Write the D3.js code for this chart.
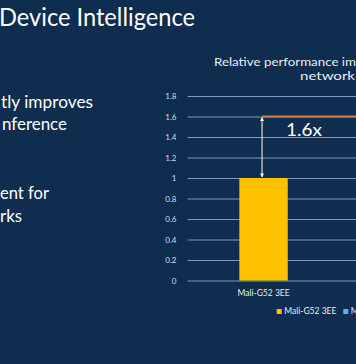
<!DOCTYPE html>
<html><head><meta charset="utf-8">
<script src="https://cdn.jsdelivr.net/npm/d3@7"></script>
<style>html,body{margin:0;padding:0;background:#0f2d4f;overflow:hidden}</style>
</head><body>
<script>
const categories = ["Mali-G52 3EE", "Mali-G52 3EE + Arm NN"];
const values = [1.0, 1.6];
const seriesColors = ["#ffc000", "#4db8e8"];
const yTicks = [0, 0.2, 0.4, 0.6, 0.8, 1, 1.2, 1.4, 1.6, 1.8];
const speedupLabel = "1.6x";
const slideTitle = "Device Intelligence";
const bodyLines = ["tly improves", "nference", "ent for", "rks"];
const chartTitle = ["Relative performance im", "network"];

const W = 356, H = 364;
const svg = d3.select("body").append("svg").attr("width", W).attr("height", H)
  .style("display", "block").style("font-family", "Lato, 'Open Sans', sans-serif");
svg.append("rect").attr("width", W).attr("height", H).attr("fill", "#0f2d4f");

// slide title
svg.append("text").attr("x", -1).attr("y", 26).attr("fill", "#ffffff")
  .attr("font-size", 25).attr("textLength", 196).attr("lengthAdjust", "spacingAndGlyphs")
  .text(slideTitle);

// body text fragments
const bodyPos = [[1, 108, 92], [2, 130, 65], [0, 199, 49], [0, 222, 22]];
bodyLines.forEach((t, i) => {
  svg.append("text").attr("x", bodyPos[i][0]).attr("y", bodyPos[i][1]).attr("fill", "#ffffff")
    .attr("font-size", 16.5).attr("textLength", bodyPos[i][2]).attr("lengthAdjust", "spacingAndGlyphs")
    .text(t);
});

// chart title
svg.append("text").attr("x", 214).attr("y", 66).attr("fill", "#e8ecf0").attr("font-size", 12)
  .attr("textLength", 142).attr("lengthAdjust", "spacingAndGlyphs").text(chartTitle[0]);
svg.append("text").attr("x", 300).attr("y", 80).attr("fill", "#e8ecf0").attr("font-size", 12)
  .attr("textLength", 55).attr("lengthAdjust", "spacingAndGlyphs").text(chartTitle[1]);

// scales
const plotLeft = 187.5;
const y = d3.scaleLinear().domain([0, 1.8]).range([280.5, 96]);
const x = d3.scaleBand().domain(categories).range([plotLeft, 499.6])
  .paddingInner(0.6975).paddingOuter(0.324);

// gridlines + y labels
const yAxis = d3.axisLeft(y).tickValues(yTicks).tickFormat(d => String(d))
  .tickSize(-(W + 10 - plotLeft)).tickPadding(11);
const gy = svg.append("g").attr("transform", `translate(${plotLeft},0)`).call(yAxis);
gy.select(".domain").remove();
gy.selectAll(".tick line").attr("stroke", "#8698ae").attr("stroke-width", 1.2);
gy.selectAll(".tick text").attr("fill", "#d8dee6").attr("font-size", 8)
  .style("font-family", "Lato, 'Open Sans', sans-serif");

// bars
svg.append("g").selectAll("rect").data(categories).join("rect")
  .attr("x", d => x(d)).attr("width", x.bandwidth())
  .attr("y", (d, i) => y(values[i])).attr("height", (d, i) => y(0) - y(values[i]))
  .attr("fill", (d, i) => seriesColors[i]);

// x axis labels
const xAxis = d3.axisBottom(x).tickSize(0).tickPadding(9);
const gx = svg.append("g").attr("transform", `translate(0,${y(0)})`).call(xAxis);
gx.select(".domain").remove();
gx.selectAll(".tick text").attr("fill", "#e8ecf0").attr("font-size", 8.5)
  .style("font-family", "Lato, 'Open Sans', sans-serif");

// orange reference line and double arrow
const ax = x(categories[0]) + x.bandwidth() / 2 - 1.5;
svg.append("line").attr("x1", ax).attr("x2", x(categories[1]) + x.bandwidth() / 2)
  .attr("y1", y(values[1])).attr("y2", y(values[1]))
  .attr("stroke", "#d9773a").attr("stroke-width", 1.8);
const defs = svg.append("defs");
defs.append("marker").attr("id", "ah").attr("viewBox", "0 0 10 10").attr("refX", 9).attr("refY", 5)
  .attr("markerWidth", 4).attr("markerHeight", 4).attr("orient", "auto-start-reverse")
  .append("path").attr("d", "M0,0L10,5L0,10z").attr("fill", "#ffffff");
svg.append("line").attr("x1", ax).attr("x2", ax)
  .attr("y1", y(values[1]) + 1).attr("y2", y(values[0]) - 1)
  .attr("stroke", "#ffffff").attr("stroke-width", 1)
  .attr("marker-start", "url(#ah)").attr("marker-end", "url(#ah)");
svg.append("text").attr("x", ax + 24).attr("y", y(values[1]) + 19)
  .attr("fill", "#ffffff").attr("font-size", 17).attr("textLength", 36).attr("lengthAdjust", "spacingAndGlyphs")
  .text(speedupLabel);

// legend
const legendX = [276.7, 343.3];
const lg = svg.append("g").selectAll("g").data(categories).join("g")
  .attr("transform", (d, i) => `translate(${legendX[i]},309)`);
lg.append("rect").attr("width", 5).attr("height", 5).attr("fill", (d, i) => seriesColors[i]);
lg.append("text").attr("x", 7.5).attr("y", 5).attr("fill", "#e8ecf0").attr("font-size", 8.5).text(d => d);
</script>
</body></html>
